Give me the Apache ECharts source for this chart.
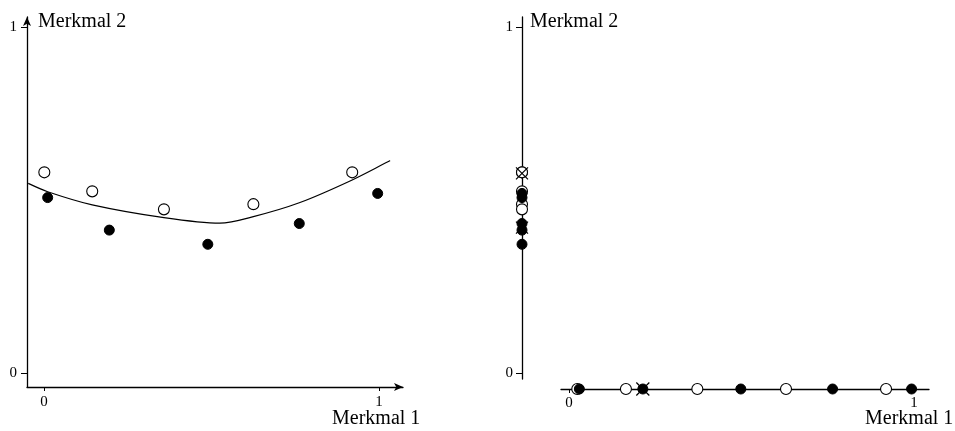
<!DOCTYPE html>
<html>
<head>
<meta charset="utf-8">
<script src="https://cdn.jsdelivr.net/npm/echarts@6/dist/echarts.min.js"></script>
<style>
  html, body { margin: 0; padding: 0; background: #fff; }
  #chart { width: 955px; height: 431px; }
</style>
</head>
<body>
<div id="chart"></div>
<script>
// Two classes in the feature plane (Merkmal 1 / Merkmal 2)
const openPts = [[0.001, 0.580], [0.144, 0.525], [0.358, 0.473], [0.625, 0.488], [0.920, 0.580]];
const filledPts = [[0.011, 0.507], [0.195, 0.413], [0.489, 0.372], [0.762, 0.432], [0.996, 0.519]];
// Separating curve between the classes
const boundary = [[-0.047, 0.548], [0.011, 0.524], [0.144, 0.486], [0.358, 0.449], [0.525, 0.433],
                  [0.625, 0.452], [0.762, 0.492], [0.920, 0.558], [1.033, 0.614]];
// Projections onto single features
const openM2 = [0.580, 0.580, 0.525, 0.488, 0.473];
const filledM2 = [0.519, 0.507, 0.432, 0.413, 0.372];
const openM1 = [0.024, 0.165, 0.372, 0.629, 0.919];
const filledM1 = [0.030, 0.214, 0.498, 0.764, 0.993];
// Marked (crossed) values
const crossM2 = [0.577, 0.42];
const crossM1 = [0.214];
const tickVals = [0, 1];
const nameX = 'Merkmal 1';
const nameY = 'Merkmal 2';

const FONT = '"Liberation Serif", "Times New Roman", serif';
const black = '#000';
const LABEL_SIZE = 15;

function axisCommon(extra) {
  return Object.assign({
    type: 'value',
    splitLine: { show: false },
    axisLine: { show: true, onZero: false, lineStyle: { color: black, width: 1.3 } },
    axisTick: { show: true, customValues: tickVals, lineStyle: { color: black, width: 1 } },
    axisLabel: { show: true, customValues: tickVals, color: black, fontFamily: FONT, fontSize: LABEL_SIZE }
  }, extra);
}

const openStyle = { color: '#fff', borderColor: black, borderWidth: 1.1, opacity: 1 };
const filledStyle = { color: black, borderColor: black, borderWidth: 1, opacity: 1 };
const crossStyle = { color: 'transparent', borderColor: black, borderWidth: 1.2, opacity: 1 };
const crossSymbol = 'path://M0,0L10,10M10,0L0,10';

const chart = echarts.init(document.getElementById('chart'), null, { renderer: 'canvas' });
chart.setOption({
  animation: false,
  backgroundColor: '#fff',
  grid: [
    { left: 27, top: 17, width: 376, height: 370 },
    { left: 522, top: 17, width: 10, height: 362 },
    { left: 561, top: 379, width: 368, height: 10 }
  ],
  xAxis: [
    axisCommon({
      gridIndex: 0, min: -0.0507, max: 1.0716,
      axisLine: { show: true, onZero: false, symbol: ['none', 'arrow'], symbolSize: [6, 9],
                  lineStyle: { color: black, width: 1.3 } },
      axisTick: { show: true, customValues: tickVals, length: 4, lineStyle: { color: black } },
      axisLabel: { show: true, customValues: tickVals, margin: 8, color: black, fontFamily: FONT, fontSize: LABEL_SIZE }
    }),
    { type: 'value', gridIndex: 1, min: 0, max: 1, show: false },
    axisCommon({
      gridIndex: 2, min: -0.0232, max: 1.0435,
      axisTick: { show: true, customValues: tickVals, length: 4, lineStyle: { color: black } },
      axisLabel: { show: true, customValues: tickVals, margin: 7, color: black, fontFamily: FONT, fontSize: LABEL_SIZE }
    })
  ],
  yAxis: [
    axisCommon({
      gridIndex: 0, min: -0.0405, max: 1.029,
      axisLine: { show: true, onZero: false, symbol: ['none', 'arrow'], symbolSize: [6, 9],
                  lineStyle: { color: black, width: 1.3 } },
      axisTick: { show: true, customValues: tickVals, length: 6, lineStyle: { color: black } },
      axisLabel: { show: true, customValues: tickVals, margin: 10, color: black, fontFamily: FONT, fontSize: LABEL_SIZE }
    }),
    axisCommon({
      gridIndex: 1, min: -0.0173, max: 1.0289,
      axisTick: { show: true, customValues: tickVals, length: 6, lineStyle: { color: black } },
      axisLabel: { show: true, customValues: tickVals, margin: 9, color: black, fontFamily: FONT, fontSize: LABEL_SIZE }
    }),
    { type: 'value', gridIndex: 2, min: 0, max: 1, show: false }
  ],
  graphic: [
    { type: 'text', left: 38, top: 12, style: { text: nameY, font: '20px ' + FONT, fill: black } },
    { type: 'text', left: 332, top: 409, style: { text: nameX, font: '20px ' + FONT, fill: black } },
    { type: 'text', left: 530, top: 12, style: { text: nameY, font: '20px ' + FONT, fill: black } },
    { type: 'text', left: 865, top: 409, style: { text: nameX, font: '20px ' + FONT, fill: black } }
  ],
  series: [
    { type: 'line', xAxisIndex: 0, yAxisIndex: 0, data: boundary, smooth: 0.3, showSymbol: false,
      symbol: 'none', lineStyle: { color: black, width: 1.2 }, clip: false, silent: true },
    { type: 'scatter', xAxisIndex: 0, yAxisIndex: 0, data: openPts, symbolSize: 11, itemStyle: openStyle },
    { type: 'scatter', xAxisIndex: 0, yAxisIndex: 0, data: filledPts, symbolSize: 10, itemStyle: filledStyle },

    { type: 'scatter', xAxisIndex: 1, yAxisIndex: 1, clip: false,
      data: openM2.map(v => [0, v]), symbolSize: 11, itemStyle: openStyle },
    { type: 'scatter', xAxisIndex: 1, yAxisIndex: 1, clip: false,
      data: filledM2.map(v => [0, v]), symbolSize: 10, itemStyle: filledStyle },
    { type: 'scatter', xAxisIndex: 1, yAxisIndex: 1, clip: false,
      data: crossM2.map(v => [0, v]), symbol: crossSymbol, symbolSize: 12, itemStyle: crossStyle },

    { type: 'scatter', xAxisIndex: 2, yAxisIndex: 2, clip: false,
      data: openM1.map(v => [v, 0]), symbolSize: 11, itemStyle: openStyle },
    { type: 'scatter', xAxisIndex: 2, yAxisIndex: 2, clip: false,
      data: filledM1.map(v => [v, 0]), symbolSize: 10, itemStyle: filledStyle },
    { type: 'scatter', xAxisIndex: 2, yAxisIndex: 2, clip: false,
      data: crossM1.map(v => [v, 0]), symbol: crossSymbol, symbolSize: 13, itemStyle: crossStyle }
  ]
});
</script>
</body>
</html>
